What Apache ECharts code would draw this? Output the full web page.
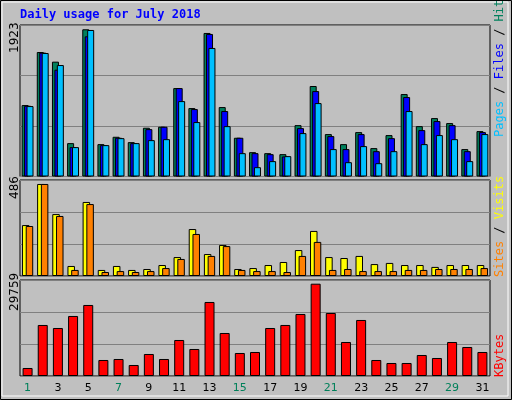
<!DOCTYPE html>
<html>
<head>
<meta charset="utf-8">
<script src="https://cdn.jsdelivr.net/npm/echarts@6/dist/echarts.min.js"></script>
<style>html,body{margin:0;padding:0;background:#c0c0c0}#chart{width:512px;height:400px}</style>
</head>
<body>
<div id="chart"></div>
<script>
var days = [];
for (var d = 1; d <= 31; d++) days.push(String(d));
var weekends = [1, 7, 8, 14, 15, 21, 22, 28, 29];

var hits = [933,1626,1500,436,1923,423,519,449,637,650,1155,894,1875,907,506,318,305,292,671,1182,554,423,580,371,541,1077,658,763,698,358,593];
var files = [924,1618,1395,384,1831,410,506,436,619,650,1155,881,1862,855,506,305,292,262,632,1116,528,358,554,331,501,1038,606,724,671,331,580];
var pages = [920,1613,1456,384,1914,410,501,436,475,488,985,711,1679,658,305,122,201,266,567,959,358,187,397,174,331,855,423,541,488,201,554];
var visits = [269,486,327,53,391,32,53,32,37,58,100,248,116,164,37,42,58,74,137,238,100,95,106,63,69,58,58,48,58,58,58];
var sites = [264,486,317,32,380,21,26,21,26,42,90,222,106,158,32,26,26,21,106,180,32,37,26,26,26,32,32,37,37,37,42];
var kbytes = [2580,16448,15480,19350,22898,5160,5483,3548,7095,5483,11610,8708,23865,13868,7418,7740,15480,16448,19995,29759,20318,10965,18060,5160,4193,4193,6773,5805,10965,9353,7740];

var maxTop = 1979, maxMid = 507, maxBot = 30950;

function grid(top, height) {
    return {left: 20, right: 22, top: top, height: height, show: true,
        backgroundColor: '#c0c0c0', borderColor: '#000', borderWidth: 1};
}
function xAx(i, labels) {
    return {type: 'category', data: days, gridIndex: i,
        axisLine: {show: false}, axisTick: {show: false},
        axisLabel: labels ? {
            show: true, margin: 7, fontFamily: 'DejaVu Sans', fontSize: 11,
            color: function (v) { return weekends.indexOf(+v) >= 0 ? '#00805a' : '#000'; }
        } : {show: false}};
}
function yAx(i, max) {
    return {type: 'value', gridIndex: i, min: 0, max: max, interval: max / 3,
        axisLine: {show: false}, axisTick: {show: false}, axisLabel: {show: false},
        splitLine: {lineStyle: {color: '#808080', width: 1}}};
}
function bar(name, data, color, i, w, gap) {
    return {name: name, type: 'bar', data: data, xAxisIndex: i, yAxisIndex: i,
        barWidth: w, barGap: gap, animation: false,
        itemStyle: {color: color, borderColor: '#000', borderWidth: 1}};
}

var option = {
    animation: false,
    backgroundColor: '#c0c0c0',
    grid: [grid(25, 151.5), grid(180, 96), grid(280, 96)],
    xAxis: [xAx(0, false), xAx(1, false), xAx(2, true)],
    yAxis: [yAx(0, maxTop), yAx(1, maxMid), yAx(2, maxBot)],
    series: [
        bar('Hits', hits, '#00805c', 0, 7, '-65%'),
        bar('Files', files, '#0000ff', 0, 7, '-65%'),
        bar('Pages', pages, '#00c0ff', 0, 7, '-65%'),
        bar('Visits', visits, '#ffff00', 1, 7.5, '-50%'),
        bar('Sites', sites, '#ff8000', 1, 7.5, '-50%'),
        bar('KBytes', kbytes, '#ff0000', 2, 10, '0%')
    ],
    graphic: [
        {type: 'rect', z: -10, shape: {x: 0.5, y: 0.5, width: 511, height: 399},
            style: {fill: 'none', stroke: '#000', lineWidth: 1}},
        {type: 'rect', z: -10, shape: {x: 2, y: 2, width: 506, height: 394},
            style: {fill: 'none', stroke: '#fff', lineWidth: 1}},
        {type: 'text', left: 20, top: 9, style: {text: 'Daily usage for July 2018',
            fill: '#0000ff', font: 'bold 12px "DejaVu Sans Mono"'}},
        {type: 'text', x: 9, y: 53, rotation: Math.PI / 2, style: {text: '1923',
            fill: '#000', font: '12px "DejaVu Sans"'}},
        {type: 'text', x: 9, y: 199, rotation: Math.PI / 2, style: {text: '486',
            fill: '#000', font: '12px "DejaVu Sans"'}},
        {type: 'text', x: 9, y: 311, rotation: Math.PI / 2, style: {text: '29759',
            fill: '#000', font: '12px "DejaVu Sans"'}},
        {type: 'text', x: 494, y: 137, rotation: Math.PI / 2, style: {
            text: '{a|Pages} / {b|Files} / {c|Hits}', font: '12px "DejaVu Sans Mono"',
            rich: {a: {fill: '#00c0ff', font: '12px "DejaVu Sans Mono"'},
                   b: {fill: '#0000ff', font: '12px "DejaVu Sans Mono"'},
                   c: {fill: '#00805c', font: '12px "DejaVu Sans Mono"'}}}},
        {type: 'text', x: 494, y: 277, rotation: Math.PI / 2, style: {
            text: '{a|Sites} / {b|Visits}', font: '12px "DejaVu Sans Mono"',
            rich: {a: {fill: '#ff8000', font: '12px "DejaVu Sans Mono"'},
                   b: {fill: '#ffff00', font: '12px "DejaVu Sans Mono"'}}}},
        {type: 'text', x: 494, y: 377, rotation: Math.PI / 2, style: {
            text: 'KBytes', fill: '#ff0000', font: '12px "DejaVu Sans Mono"'}}
    ]
};

var chart = echarts.init(document.getElementById('chart'));
chart.setOption(option);
</script>
</body>
</html>
